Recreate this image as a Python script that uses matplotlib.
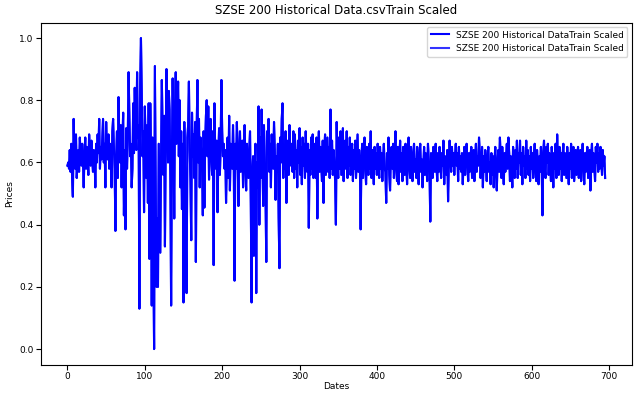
import numpy as np
import matplotlib
matplotlib.use('Agg')
import matplotlib.pyplot as plt

# scaled closing prices, SZSE 200 training set
prices = [
    0.59, 0.60, 0.58, 0.64, 0.57, 0.66, 0.55, 0.49, 0.74, 0.62,
    0.58, 0.69, 0.55, 0.60, 0.64, 0.57, 0.68, 0.62, 0.59, 0.66,
    0.61, 0.52, 0.63, 0.68, 0.58, 0.65, 0.60, 0.56, 0.69, 0.63,
    0.59, 0.67, 0.61, 0.57, 0.64, 0.62, 0.52, 0.66, 0.60, 0.69,
    0.63, 0.74, 0.58, 0.65, 0.61, 0.68, 0.74, 0.60, 0.66, 0.52,
    0.73, 0.64, 0.61, 0.69, 0.58, 0.66, 0.63, 0.52, 0.70, 0.74,
    0.65, 0.58, 0.38, 0.62, 0.70, 0.55, 0.81, 0.67, 0.60, 0.72,
    0.52, 0.66, 0.76, 0.43, 0.64, 0.385, 0.71, 0.58, 0.69, 0.89,
    0.75, 0.62, 0.66, 0.52, 0.58, 0.79, 0.63, 0.84, 0.70, 0.64,
    0.89, 0.68, 0.72, 0.13, 0.85, 1.00, 0.83, 0.62, 0.70, 0.44,
    0.78, 0.66, 0.55, 0.72, 0.47, 0.79, 0.29, 0.79, 0.60, 0.14,
    0.68, 0.31, 0.00, 0.91, 0.55, 0.20, 0.42, 0.20, 0.66, 0.48,
    0.31, 0.62, 0.865, 0.70, 0.56, 0.75, 0.33, 0.64, 0.90, 0.72,
    0.60, 0.83, 0.77, 0.55, 0.14, 0.62, 0.87, 0.70, 0.42, 0.78,
    0.89, 0.66, 0.73, 0.86, 0.62, 0.80, 0.52, 0.70, 0.45, 0.66,
    0.15, 0.73, 0.58, 0.35, 0.18, 0.68, 0.72, 0.86, 0.64, 0.54,
    0.35, 0.76, 0.62, 0.69, 0.55, 0.73, 0.28, 0.70, 0.865, 0.60,
    0.74, 0.52, 0.68, 0.63, 0.58, 0.43, 0.70, 0.455, 0.66, 0.75,
    0.80, 0.62, 0.78, 0.545, 0.68, 0.74, 0.61, 0.56, 0.70, 0.27,
    0.79, 0.63, 0.58, 0.67, 0.44, 0.62, 0.71, 0.56, 0.65, 0.865,
    0.70, 0.62, 0.66, 0.58, 0.64, 0.47, 0.60, 0.68, 0.55, 0.75,
    0.51, 0.66, 0.62, 0.58, 0.72, 0.60, 0.22, 0.66, 0.58, 0.73,
    0.62, 0.46, 0.64, 0.70, 0.57, 0.61, 0.67, 0.52, 0.63, 0.72,
    0.58, 0.51, 0.66, 0.60, 0.55, 0.64, 0.70, 0.465, 0.15, 0.58,
    0.62, 0.30, 0.56, 0.66, 0.18, 0.60, 0.52, 0.78, 0.40, 0.68,
    0.55, 0.77, 0.62, 0.46, 0.72, 0.60, 0.50, 0.28, 0.70, 0.63,
    0.74, 0.57, 0.66, 0.52, 0.69, 0.61, 0.58, 0.73, 0.64, 0.48,
    0.62, 0.57, 0.66, 0.42, 0.26, 0.68, 0.60, 0.74, 0.79, 0.55,
    0.64, 0.58, 0.70, 0.47, 0.62, 0.67, 0.56, 0.72, 0.61, 0.59,
    0.66, 0.57, 0.70, 0.55, 0.69, 0.58, 0.64, 0.52, 0.67, 0.60,
    0.71, 0.56, 0.65, 0.53, 0.68, 0.59, 0.66, 0.55, 0.70, 0.61,
    0.57, 0.66, 0.39, 0.64, 0.56, 0.68, 0.58, 0.69, 0.55, 0.63,
    0.66, 0.55, 0.68, 0.42, 0.63, 0.70, 0.57, 0.65, 0.60, 0.54,
    0.67, 0.47, 0.64, 0.69, 0.56, 0.62, 0.68, 0.57, 0.65, 0.55,
    0.77, 0.58, 0.67, 0.56, 0.64, 0.60, 0.54, 0.40, 0.73, 0.61,
    0.55, 0.68, 0.58, 0.70, 0.56, 0.64, 0.71, 0.54, 0.62, 0.67,
    0.58, 0.70, 0.55, 0.65, 0.59, 0.68, 0.56, 0.63, 0.66, 0.54,
    0.64, 0.58, 0.67, 0.55, 0.62, 0.69, 0.57, 0.64, 0.59, 0.385,
    0.62, 0.66, 0.55, 0.64, 0.68, 0.58, 0.53, 0.65, 0.60, 0.56,
    0.66, 0.58, 0.70, 0.55, 0.64, 0.61, 0.53, 0.65, 0.58, 0.63,
    0.56, 0.66, 0.60, 0.55, 0.65, 0.58, 0.63, 0.54, 0.61, 0.66,
    0.58, 0.57, 0.47, 0.63, 0.58, 0.68, 0.56, 0.51, 0.62, 0.65,
    0.58, 0.66, 0.55, 0.63, 0.70, 0.58, 0.54, 0.65, 0.53, 0.61,
    0.67, 0.57, 0.63, 0.54, 0.65, 0.59, 0.56, 0.66, 0.60, 0.53,
    0.63, 0.68, 0.58, 0.55, 0.65, 0.60, 0.54, 0.63, 0.66, 0.57,
    0.61, 0.55, 0.65, 0.58, 0.53, 0.63, 0.66, 0.57, 0.61, 0.52,
    0.59, 0.65, 0.56, 0.63, 0.59, 0.54, 0.66, 0.61, 0.57, 0.41,
    0.63, 0.58, 0.55, 0.65, 0.60, 0.57, 0.66, 0.59, 0.54, 0.63,
    0.57, 0.65, 0.61, 0.55, 0.63, 0.59, 0.67, 0.53, 0.62, 0.59,
    0.56, 0.64, 0.475, 0.60, 0.67, 0.61, 0.57, 0.65, 0.59, 0.63,
    0.56, 0.62, 0.66, 0.59, 0.63, 0.54, 0.65, 0.58, 0.62, 0.57,
    0.63, 0.53, 0.60, 0.65, 0.56, 0.62, 0.66, 0.59, 0.54, 0.63,
    0.57, 0.62, 0.65, 0.55, 0.60, 0.64, 0.54, 0.61, 0.66, 0.57,
    0.62, 0.59, 0.68, 0.63, 0.55, 0.60, 0.65, 0.52, 0.62, 0.57,
    0.64, 0.59, 0.54, 0.62, 0.65, 0.57, 0.60, 0.53, 0.63, 0.56,
    0.62, 0.52, 0.60, 0.65, 0.56, 0.51, 0.61, 0.64, 0.57, 0.68,
    0.62, 0.55, 0.65, 0.59, 0.53, 0.63, 0.57, 0.62, 0.66, 0.58,
    0.68, 0.63, 0.54, 0.62, 0.59, 0.52, 0.65, 0.59, 0.55, 0.64,
    0.58, 0.67, 0.55, 0.63, 0.60, 0.67, 0.56, 0.63, 0.53, 0.65,
    0.59, 0.62, 0.55, 0.67, 0.58, 0.64, 0.56, 0.62, 0.54, 0.65,
    0.58, 0.63, 0.55, 0.62, 0.66, 0.57, 0.54, 0.64, 0.59, 0.53,
    0.62, 0.57, 0.65, 0.59, 0.43, 0.63, 0.67, 0.58, 0.55, 0.65,
    0.60, 0.66, 0.56, 0.63, 0.59, 0.54, 0.65, 0.60, 0.52, 0.63,
    0.58, 0.66, 0.55, 0.69, 0.60, 0.56, 0.65, 0.58, 0.63, 0.54,
    0.62, 0.66, 0.56, 0.63, 0.59, 0.55, 0.65, 0.60, 0.53, 0.63,
    0.58, 0.66, 0.55, 0.62, 0.65, 0.54, 0.59, 0.64, 0.56, 0.62,
    0.65, 0.55, 0.60, 0.64, 0.54, 0.62, 0.66, 0.58, 0.53, 0.63,
    0.57, 0.62, 0.65, 0.55, 0.60, 0.64, 0.51, 0.62, 0.66, 0.57,
    0.63, 0.59, 0.54, 0.65, 0.60, 0.66, 0.57, 0.63, 0.58, 0.65,
    0.61, 0.56, 0.64, 0.59, 0.62, 0.55,
]
dates = np.arange(len(prices))
label = 'SZSE 200 Historical DataTrain Scaled'

fig = plt.figure(figsize=(6.38, 3.95), dpi=100)
ax = fig.add_axes([0.0636, 0.077, 0.927, 0.866])

# same series plotted twice (train data and its scaled copy overlap)
ax.plot(dates, prices, color='blue', linewidth=1.5, label=label)
ax.plot(dates, prices, color='blue', linewidth=1.5, alpha=0.8, label=label)

ax.set_title('SZSE 200 Historical Data.csvTrain Scaled', fontsize=8.5)
ax.set_xlabel('Dates', fontsize=6.5, labelpad=1)
ax.set_ylabel('Prices', fontsize=6.5)
ax.tick_params(labelsize=6.5, pad=1.5)
ax.legend(loc='upper right', fontsize=6.5)

plt.savefig('out.png', dpi=100)
